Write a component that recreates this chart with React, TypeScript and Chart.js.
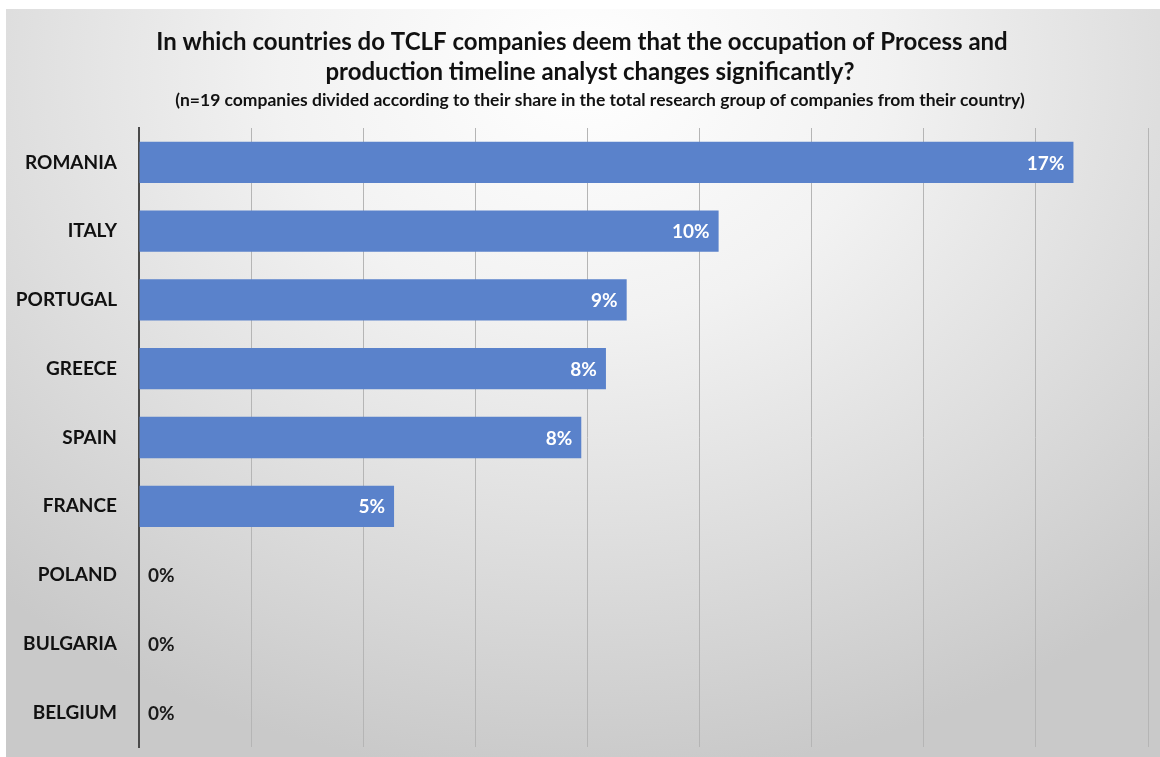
import React, { useEffect, useRef } from "react";
import { Chart, registerables } from "chart.js";

Chart.register(...registerables);

const categories = ["ROMANIA", "ITALY", "PORTUGAL", "GREECE", "SPAIN", "FRANCE", "POLAND", "BULGARIA", "BELGIUM"];
const shares = [0.1667, 0.1034, 0.087, 0.0833, 0.0789, 0.0455, 0, 0, 0];
const titleLines = [
  "In which countries do TCLF companies deem that the occupation of Process and",
  "production timeline analyst changes significantly?",
];
const subtitleText =
  "(n=19 companies divided according to their share in the total research group of companies from their country)";
const axisMax = 0.18;
const axisStep = 0.02;

const FONT = "Lato, 'Open Sans', sans-serif";

const titleBlock = {
  id: "titleBlock",
  afterDraw(chart: any) {
    const ctx = chart.ctx;
    ctx.save();
    ctx.fillStyle = "#111111";
    ctx.textAlign = "center";
    ctx.textBaseline = "middle";
    ctx.font = `bold 24px ${FONT}`;
    ctx.fillText(titleLines[0], 576, 33);
    ctx.fillText(titleLines[1], 584, 63);
    ctx.font = `bold 17.5px ${FONT}`;
    ctx.fillText(subtitleText, 594, 91);
    ctx.restore();
  },
};

const valueLabels = {
  id: "valueLabels",
  afterDatasetsDraw(chart: any) {
    const ctx = chart.ctx;
    const meta = chart.getDatasetMeta(0);
    const area = chart.chartArea;
    ctx.save();
    ctx.font = `bold 19px ${FONT}`;
    ctx.textBaseline = "middle";
    meta.data.forEach((bar: any, i: number) => {
      const v = shares[i];
      const txt = Math.round(v * 100) + "%";
      if (v > 0) {
        ctx.fillStyle = "#ffffff";
        ctx.textAlign = "right";
        ctx.fillText(txt, bar.x - 9, bar.y + 1);
      } else {
        ctx.fillStyle = "#1a1a1a";
        ctx.textAlign = "left";
        ctx.fillText(txt, area.left + 9, bar.y + 1);
      }
    });
    ctx.restore();
  },
};

export default function App() {
  const ref = useRef<HTMLCanvasElement>(null);
  useEffect(() => {
    document.body.style.margin = "0";
    const chart = new Chart(ref.current!, {
      type: "bar",
      data: {
        labels: categories,
        datasets: [
          {
            data: shares,
            backgroundColor: "#5a82cb",
            borderWidth: 0,
            barPercentage: 0.6,
            categoryPercentage: 1,
          },
        ],
      },
      options: {
        indexAxis: "y",
        animation: false,
        responsive: false,
        maintainAspectRatio: false,
        layout: { padding: { left: 0, right: 12, top: 119, bottom: 10 } },
        plugins: {
          legend: { display: false },
          tooltip: { enabled: false },
          title: { display: false },
        },
        scales: {
          x: {
            min: 0,
            max: axisMax,
            ticks: { display: false, stepSize: axisStep },
            grid: { color: "#b5b5b5", lineWidth: 1, drawTicks: false },
            border: { display: false },
          },
          y: {
            ticks: {
              color: "#111111",
              font: { family: FONT, size: 19, weight: "bold" },
              padding: 22,
            },
            grid: { display: false, drawTicks: false },
            border: { display: true, color: "#4a4a4a", width: 2 },
            afterFit: (scale: any) => {
              scale.width = 133;
              scale.paddingTop = 0;
              scale.paddingBottom = 0;
            },
          },
        },
      },
      plugins: [valueLabels, titleBlock],
    });
    return () => chart.destroy();
  }, []);

  return (
    <div style={{ position: "absolute", left: 0, top: 0, width: 1160, height: 757, background: "#ffffff", overflow: "hidden" }}>
      <div
        style={{
          position: "absolute",
          left: 6,
          top: 9,
          width: 1154,
          height: 748,
          background:
            "radial-gradient(ellipse 75% 95% at 50% 8%, #ffffff 0%, #f2f2f2 35%, #dcdcdc 70%, #c9c9c9 100%)",
        }}
      >
        <canvas ref={ref} width={1154} height={748} style={{ display: "block" }} />
      </div>
    </div>
  );
}
